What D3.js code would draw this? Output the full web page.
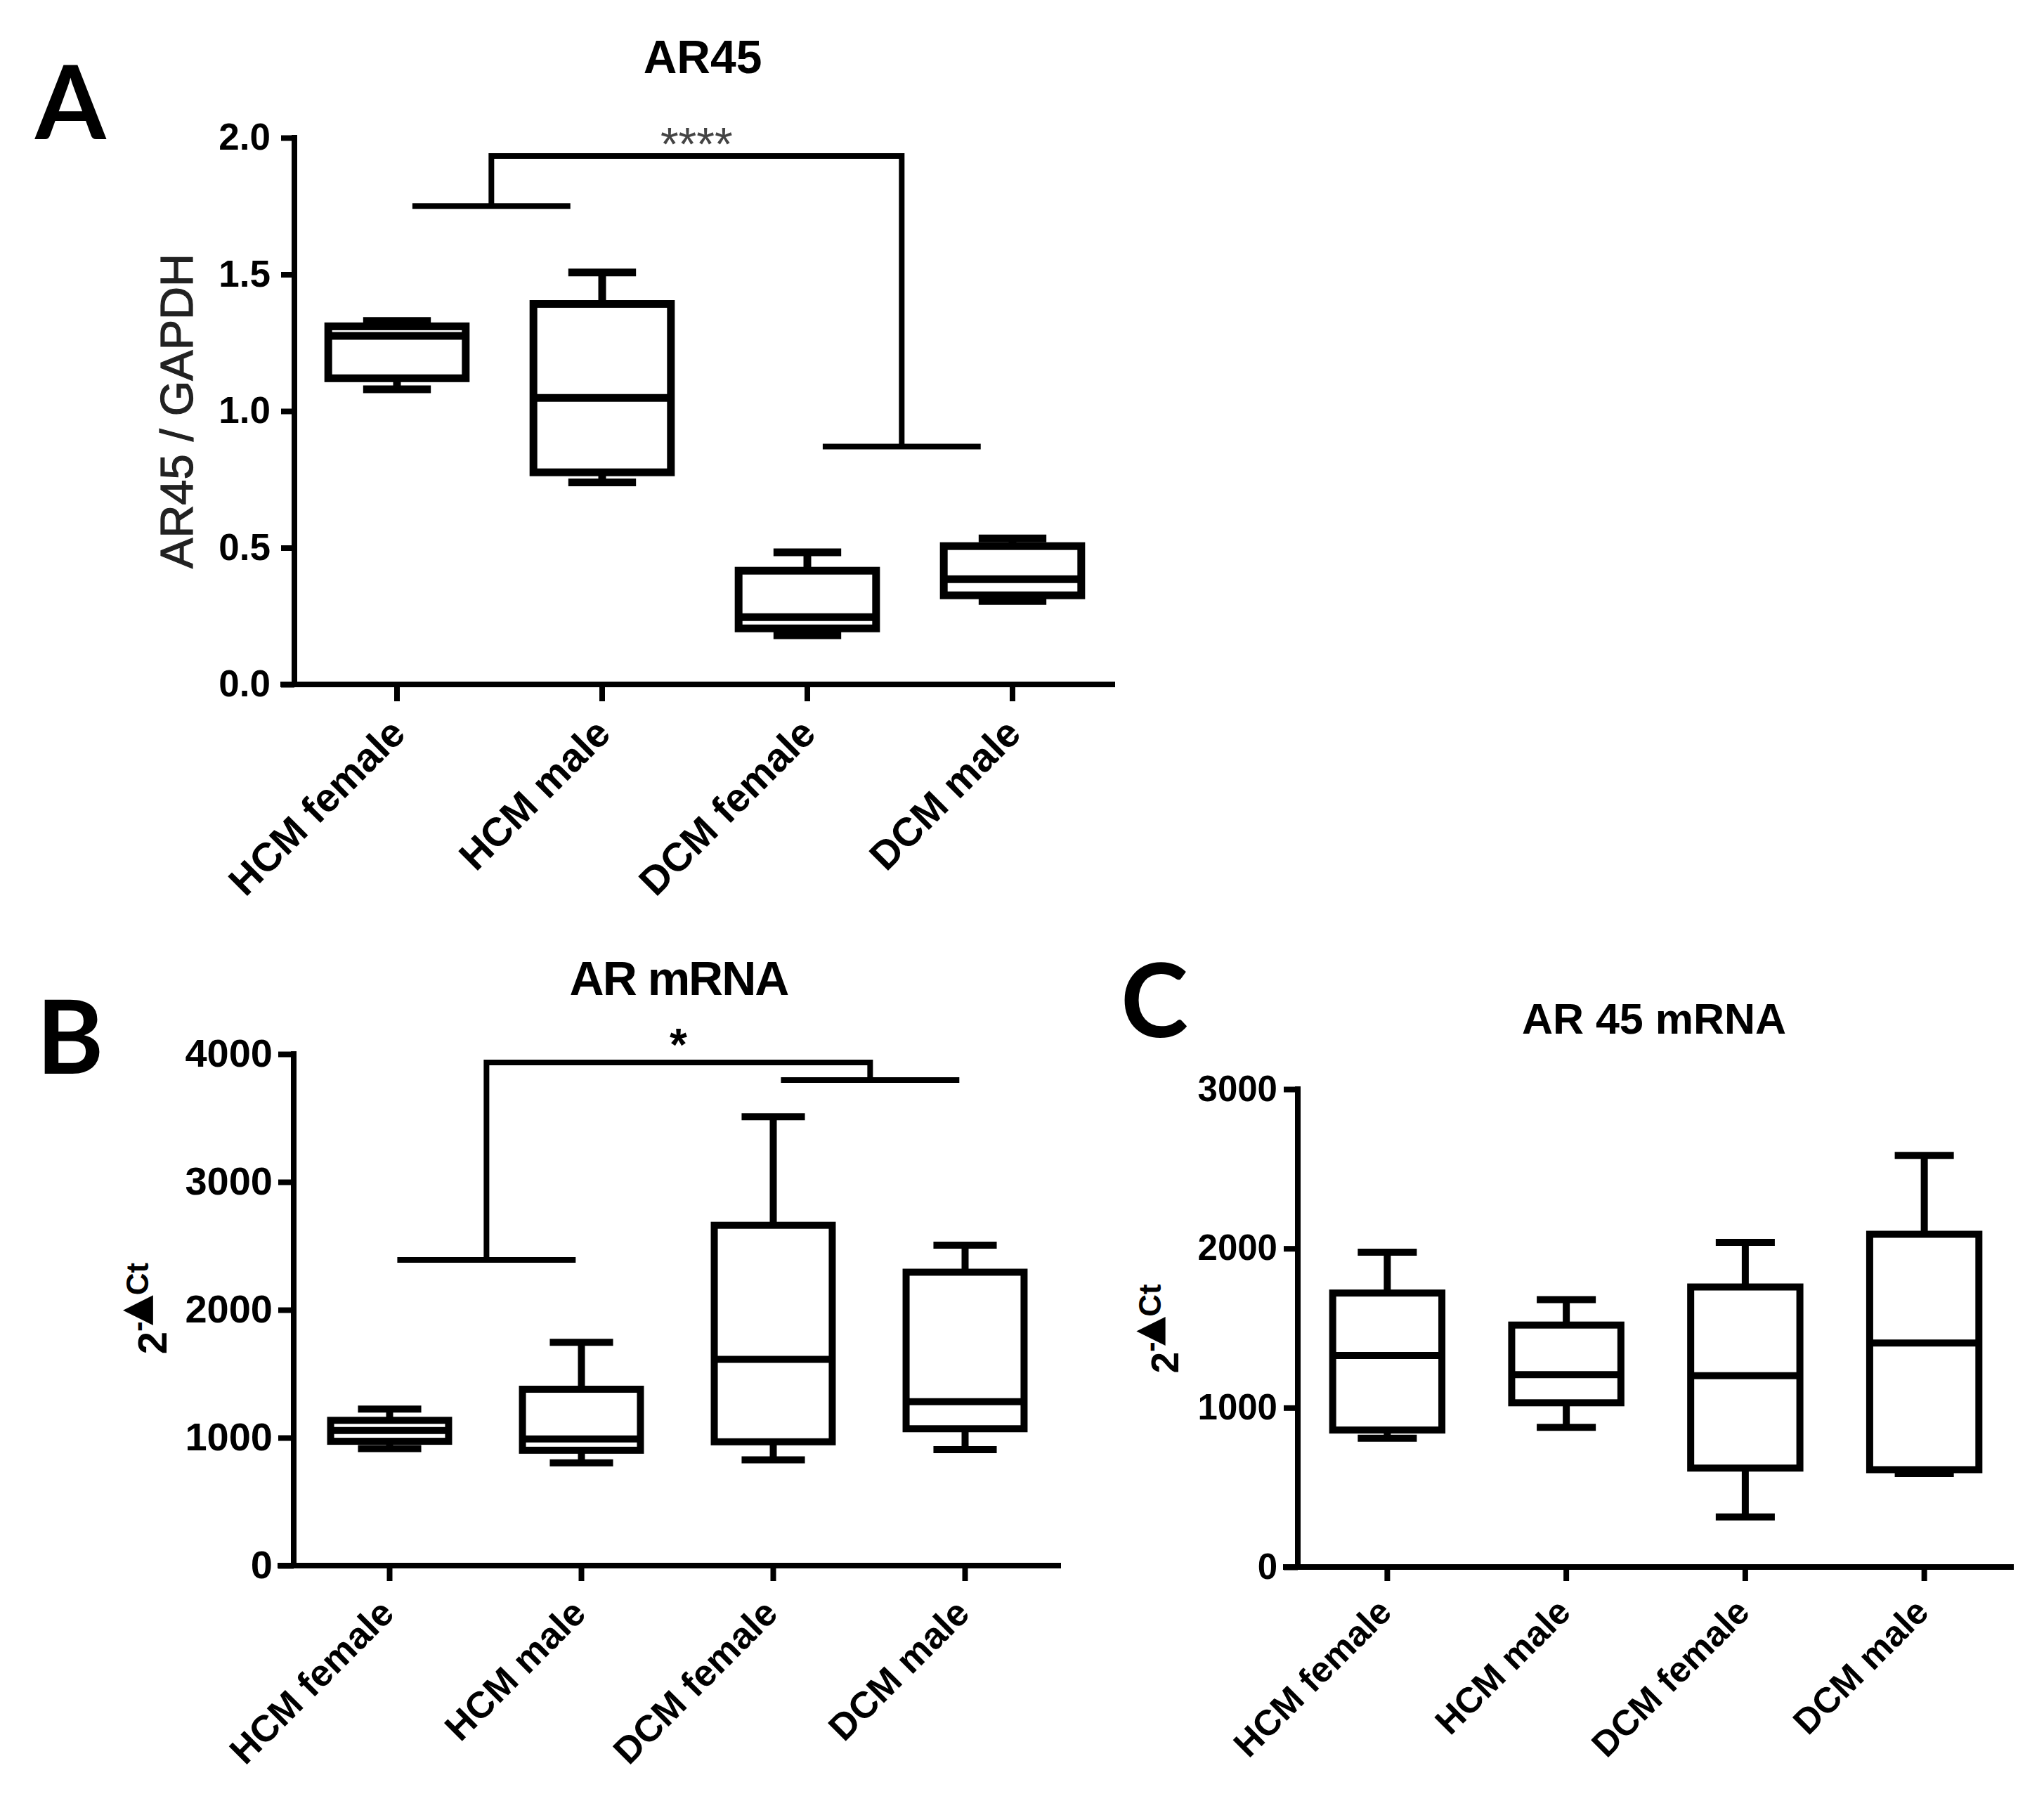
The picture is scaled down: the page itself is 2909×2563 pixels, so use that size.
<!DOCTYPE html>
<html><head><meta charset="utf-8">
<script src="https://cdn.jsdelivr.net/npm/d3@7"></script>
<style>body{margin:0;background:#fff} svg{display:block}</style>
</head><body>
<script>
// ---------- DATA ----------
const categories = ["HCM female", "HCM male", "DCM female", "DCM male"];
// each entry: [min, q1, median, q3, max]
const ar45Stats = [
  [1.08, 1.12, 1.275, 1.31, 1.33],
  [0.739, 0.776, 1.048, 1.392, 1.507],
  [0.18, 0.205, 0.246, 0.416, 0.483],
  [0.305, 0.326, 0.385, 0.506, 0.534]
];
const arMrnaStats = [
  [915, 972, 1056, 1136, 1224],
  [804, 902, 990, 1379, 1746],
  [827, 968, 1613, 2661, 3510],
  [906, 1070, 1282, 2294, 2506]
];
const ar45MrnaStats = [
  [809, 860, 1328, 1720, 1976],
  [877, 1031, 1208, 1519, 1679],
  [314, 621, 1201, 1758, 2038],
  [587, 611, 1406, 2089, 2584]
];
const ar45Ticks = [0, 0.5, 1.0, 1.5, 2.0];
const arMrnaTicks = [0, 1000, 2000, 3000, 4000];
const ar45MrnaTicks = [0, 1000, 2000, 3000];
const ar45Sig = {pairs: [[0, 1], [2, 3]], bars: [1.75, 0.87], top: 1.933, label: "****"};
const arMrnaSig = {pairs: [[0, 1], [2, 3]], bars: [2390, 3797], top: 3934, label: "*"};

// ---------- LAYOUT / STYLE ----------
const FONT = "'Liberation Sans', Arial, Helvetica, sans-serif";
const LETTER_FONT = "Lato, 'Open Sans', sans-serif";

const panels = [
  {letter: "A", letterX: 50, letterY: 198,
   title: "AR45", titleX: 1000, titleY: 104, titleSize: 66, titleSpacing: 0,
   x0: 419, x1: 1587, yTop: 196, yBottom: 974, max: 2,
   stats: ar45Stats, ticks: ar45Ticks, fmt: d3.format(".1f"),
   yTickSize: 19, yTickPad: 15, yTickFont: 53,
   xTickSize: 24, xFont: 57, xLabDx: 15, xLabDy: 73,
   boxFrac: 0.67, capFrac: 0.33, stroke: 11, axisStroke: 8,
   sig: ar45Sig, sigFont: 66, sigWeight: "normal", sigColor: "#444", sigDy: 6, barIn: [0.075, 0.155],
   ylabel: {type: "plain", text: "AR45 / GAPDH", x: 274, y: 585, size: 65}},
  {letter: "B", letterX: 52, letterY: 1528,
   title: "AR mRNA", titleX: 966, titleY: 1416, titleSize: 68, titleSpacing: -2,
   x0: 418, x1: 1510, yTop: 1500, yBottom: 2228, max: 4000,
   stats: arMrnaStats, ticks: arMrnaTicks, fmt: d3.format("d"),
   yTickSize: 22, yTickPad: 8, yTickFont: 56,
   xTickSize: 22, xFont: 53, xLabDx: 9, xLabDy: 71,
   boxFrac: 0.615, capFrac: 0.33, stroke: 10, axisStroke: 8,
   sig: arMrnaSig, sigFont: 64, sigWeight: "bold", sigColor: "#000", sigDy: -3, barIn: [0.04, 0.03],
   ylabel: {type: "ddct", x: 237, y: 1862, size: 58, supSize: 44, shift: 26, triSize: 56}},
  {letter: "C", letterX: 1595, letterY: 1476,
   title: "AR 45 mRNA", titleX: 2354, titleY: 1471, titleSize: 61, titleSpacing: 0,
   x0: 1847, x1: 2866, yTop: 1550, yBottom: 2230, max: 3000,
   stats: ar45MrnaStats, ticks: ar45MrnaTicks, fmt: d3.format("d"),
   yTickSize: 20, yTickPad: 9, yTickFont: 51,
   xTickSize: 20, xFont: 51, xLabDx: 9, xLabDy: 67,
   boxFrac: 0.61, capFrac: 0.33, stroke: 10, axisStroke: 8,
   sig: null,
   ylabel: {type: "ddct", x: 1677, y: 1891, size: 55, supSize: 44, shift: 25, triSize: 54}}
];

const svg = d3.select("body").append("svg")
  .attr("width", 2909).attr("height", 2563)
  .style("background", "#fff");

function drawPanel(p) {
  const g = svg.append("g");
  const y = d3.scaleLinear().domain([0, p.max]).range([p.yBottom, p.yTop]);
  const x = d3.scaleBand().domain(categories).range([p.x0, p.x1]).paddingInner(0).paddingOuter(0);
  const bw = x.bandwidth();
  const cx = c => x(c) + bw / 2;

  // panel letter
  g.append("text").attr("x", p.letterX).attr("y", p.letterY)
    .attr("font-family", LETTER_FONT).attr("font-weight", "bold")
    .attr("font-size", 145).attr("fill", "#000").text(p.letter);

  // title
  g.append("text").attr("x", p.titleX).attr("y", p.titleY)
    .attr("text-anchor", "middle").attr("font-family", FONT).attr("font-weight", "bold")
    .attr("font-size", p.titleSize).attr("letter-spacing", p.titleSpacing).attr("fill", "#000")
    .text(p.title);

  // y axis
  const ya = g.append("g").attr("transform", `translate(${p.x0},0)`)
    .call(d3.axisLeft(y).tickValues(p.ticks).tickFormat(p.fmt)
      .tickSize(p.yTickSize).tickSizeOuter(0).tickPadding(p.yTickPad));
  ya.select(".domain").attr("d", `M0,${p.yTop - p.axisStroke / 2}V${p.yBottom + p.axisStroke / 2}`)
    .attr("stroke", "#000").attr("stroke-width", p.axisStroke);
  ya.selectAll(".tick line").attr("stroke", "#000").attr("stroke-width", p.axisStroke);
  ya.selectAll(".tick text").attr("font-family", FONT).attr("font-weight", "bold")
    .attr("font-size", p.yTickFont).attr("fill", "#000");

  // x axis
  const xa = g.append("g").attr("transform", `translate(0,${p.yBottom})`)
    .call(d3.axisBottom(x).tickSize(p.xTickSize).tickSizeOuter(0));
  xa.select(".domain").attr("d", `M${p.x0 - p.yTickSize - 1},0H${p.x1}`)
    .attr("stroke", "#000").attr("stroke-width", p.axisStroke);
  xa.selectAll(".tick line").attr("stroke", "#000").attr("stroke-width", p.axisStroke);
  xa.selectAll(".tick text")
    .attr("x", null).attr("y", null).attr("dy", null)
    .attr("transform", `translate(${p.xLabDx},${p.xLabDy}) rotate(-45)`)
    .attr("text-anchor", "end").attr("font-family", FONT).attr("font-weight", "bold")
    .attr("font-size", p.xFont).attr("fill", "#000");

  // boxes
  const boxes = g.append("g").selectAll("g.box").data(p.stats).join("g").attr("class", "box");
  boxes.each(function (s, i) {
    const b = d3.select(this);
    const c = cx(categories[i]);
    const w = p.boxFrac * bw, cw = p.capFrac * bw;
    const [mn, q1, md, q3, mx] = s;
    const line = (x1, y1, x2, y2) => b.append("line")
      .attr("x1", x1).attr("y1", y1).attr("x2", x2).attr("y2", y2)
      .attr("stroke", "#000").attr("stroke-width", p.stroke);
    line(c, y(mx), c, y(q3));
    line(c, y(q1), c, y(mn));
    line(c - cw / 2, y(mx), c + cw / 2, y(mx));
    line(c - cw / 2, y(mn), c + cw / 2, y(mn));
    b.append("rect").attr("x", c - w / 2).attr("y", y(q3))
      .attr("width", w).attr("height", y(q1) - y(q3))
      .attr("fill", "#fff").attr("stroke", "#000").attr("stroke-width", p.stroke)
      .attr("stroke-linejoin", "miter");
    line(c - w / 2, y(md), c + w / 2, y(md));
  });

  // significance brackets
  if (p.sig) {
    const sg = g.append("g");
    const mids = p.sig.pairs.map((pr, k) => {
      const xs = cx(categories[pr[0]]) + p.barIn[0] * bw;
      const xe = cx(categories[pr[1]]) - p.barIn[1] * bw;
      sg.append("line").attr("x1", xs).attr("x2", xe)
        .attr("y1", y(p.sig.bars[k])).attr("y2", y(p.sig.bars[k]))
        .attr("stroke", "#000").attr("stroke-width", 8);
      return (xs + xe) / 2;
    });
    sg.append("path")
      .attr("d", `M${mids[0]},${y(p.sig.bars[0])}V${y(p.sig.top)}H${mids[1]}V${y(p.sig.bars[1])}`)
      .attr("fill", "none").attr("stroke", "#000").attr("stroke-width", 8)
      .attr("stroke-linejoin", "miter");
    sg.append("text").attr("x", (mids[0] + mids[1]) / 2).attr("y", y(p.sig.top) + p.sigDy)
      .attr("text-anchor", "middle").attr("font-family", FONT)
      .attr("font-weight", p.sigWeight).attr("font-size", p.sigFont).attr("fill", p.sigColor)
      .text(p.sig.label);
  }

  // y label
  const L = p.ylabel;
  if (L.type === "plain") {
    g.append("text").attr("transform", `translate(${L.x},${L.y}) rotate(-90)`)
      .attr("text-anchor", "middle").attr("font-family", FONT)
      .attr("font-size", L.size).attr("fill", "#222")
      .attr("stroke", "#222").attr("stroke-width", 1.2).text(L.text);
  } else {
    const t = g.append("text").attr("transform", `translate(${L.x},${L.y}) rotate(-90)`)
      .attr("text-anchor", "middle").attr("font-family", FONT).attr("font-weight", "bold")
      .attr("font-size", L.size).attr("fill", "#000");
    t.append("tspan").text("2");
    t.append("tspan").attr("dy", -L.shift).attr("font-size", L.supSize).text("-");
    t.append("tspan").attr("dx", -6).attr("font-size", L.triSize)
      .attr("font-family", "'DejaVu Sans', sans-serif").text("\u25B2");
    t.append("tspan").attr("font-size", L.supSize).text("Ct");
  }
}

panels.forEach(drawPanel);
</script>
</body></html>
